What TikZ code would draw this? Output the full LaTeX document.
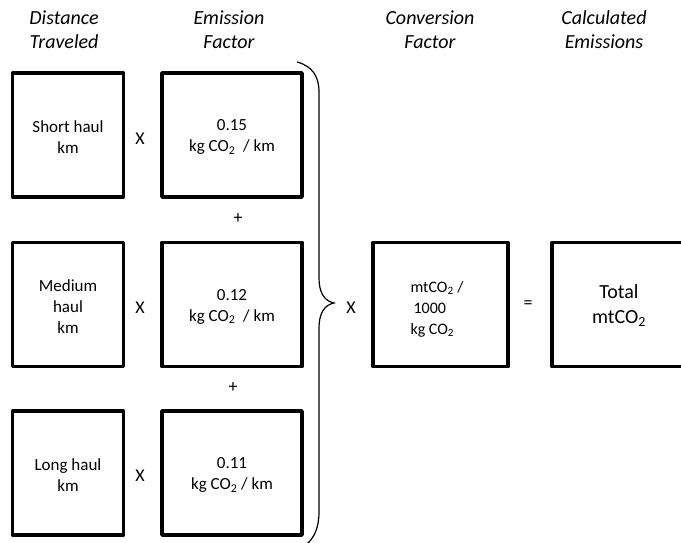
\documentclass[tikz,border=0pt]{standalone}
\usepackage{fontspec}
\setmainfont{Carlito}
\begin{document}
\begin{tikzpicture}[x=1pt,y=-1pt,
                    box/.style={draw,line width=3.6pt,line join=round,inner sep=0pt,minimum height=124pt},
                    txt/.style={align=center,inner sep=0pt,font=\fontsize{17}{21}\selectfont},
                    head/.style={align=center,font=\fontsize{20}{24}\selectfont\itshape},
                    op/.style={font=\fontsize{18}{20}\selectfont}]
                    \useasboundingbox (0,0) rectangle (681,543);

                    \node[head] (hdist) at (64, 30) {Distance\\Traveled};
                    \node[head] (hef) at (229, 30) {Emission\\Factor};
                    \node[head] (hconv) at (430, 30) {Conversion\\Factor};
                    \node[head] (htot) at (604, 30) {Calculated\\Emissions};

                    \node[box, minimum width=111pt] (dist1) at (68, 135) {};
                    \node[box, minimum width=111pt] (dist2) at (68, 304.5) {};
                    \node[box, minimum width=111pt] (dist3) at (68, 473) {};
                    \node[txt] (dist1t) at (68, 137) {Short haul\\km};
                    \node[txt] (dist2t) at (68, 306.5) {Medium\\haul\\km};
                    \node[txt] (dist3t) at (68, 475) {Long haul\\km};

                    \node[box, minimum width=140pt] (ef1) at (232, 135) {};
                    \node[box, minimum width=140pt] (ef2) at (232, 304.5) {};
                    \node[box, minimum width=140pt] (ef3) at (232, 473) {};
                    \node[txt] (ef1t) at (232, 137) {0.15\\kg CO\textsubscript{2}\ \ / km};
                    \node[txt] (ef2t) at (232, 306.5) {0.12\\kg CO\textsubscript{2}\ \ / km};
                    \node[txt] (ef3t) at (232, 475) {0.11\\kg CO\textsubscript{2} / km};

                    \node[op] (x1) at (140, 139) {X};
                    \node[op] (x2) at (140, 308) {X};
                    \node[op] (x3) at (140, 476) {X};
                    \node[op] (p1) at (238, 219) {+};
                    \node[op] (p2) at (233, 388) {+};

                    \coordinate (B1) at (297, 62);
                    \coordinate (B2) at (319, 92);
                    \coordinate (B3) at (319, 278);
                    \coordinate (T) at (334, 303);
                    \coordinate (B4) at (319, 328);
                    \coordinate (B5) at (319, 512);
                    \coordinate (B6) at (306, 545);

                    \draw[line width=1.2pt] (B1) .. controls (312, 66) and (319, 76) .. (B2) -- (B3)
                        .. controls (319, 292) and (324, 301) .. (T)
                        .. controls (324, 305) and (319, 314) .. (B4) -- (B5)
                        .. controls (319, 528) and (314, 538) .. (B6);

                    \node[op] (x4) at (351, 308) {X};

                    \node[box, minimum width=135pt] (conv) at (440.5, 304.5) {};
                    \node[txt, font=\fontsize{16}{21}\selectfont, align=left] (convt) at (437, 309)
                        {mtCO\textsubscript{2} /\\\hspace*{3pt}1000\\kg CO\textsubscript{2}};
                    \node[op] (eq) at (528, 305) {=};
                    \node[box, minimum width=136pt] (total) at (620, 304.5) {};
                    \node[txt, font=\fontsize{20}{25}\selectfont] (totalt) at (619, 306) {Total\\mtCO\textsubscript{2}};
                \end{tikzpicture}
\end{document}
